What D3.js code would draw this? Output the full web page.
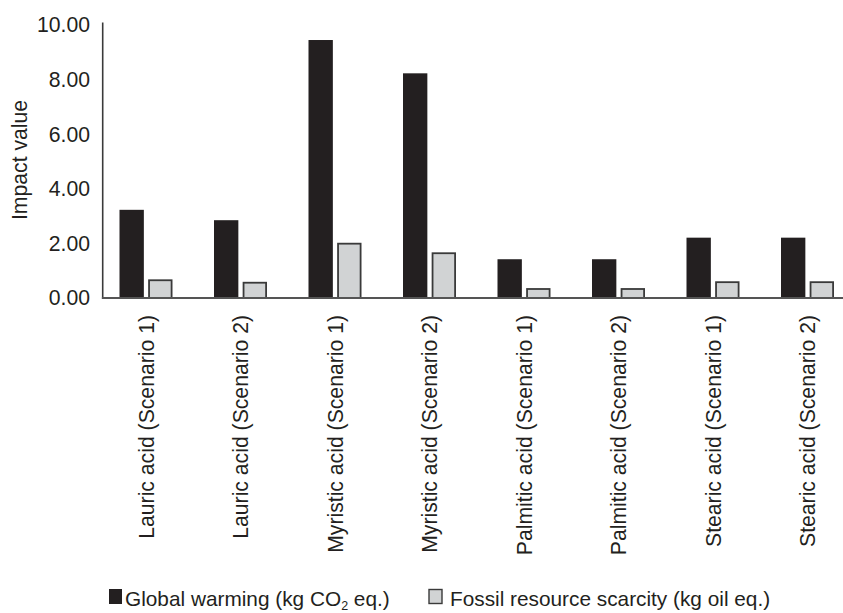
<!DOCTYPE html>
<html>
<head>
<meta charset="utf-8">
<script src="https://cdn.jsdelivr.net/npm/d3@7"></script>
<style>
  html, body { margin: 0; padding: 0; background: #fff; }
  svg { display: block; font-family: "Liberation Sans", Arial, sans-serif; }
</style>
</head>
<body>
<svg id="chart" width="843" height="613"></svg>
<script>
const categories = [
  "Lauric acid (Scenario 1)", "Lauric acid (Scenario 2)",
  "Myristic acid (Scenario 1)", "Myristic acid (Scenario 2)",
  "Palmitic acid (Scenario 1)", "Palmitic acid (Scenario 2)",
  "Stearic acid (Scenario 1)", "Stearic acid (Scenario 2)"
];
const seriesNames = ["Global warming", "Fossil resource scarcity"];
const globalWarming = [3.23, 2.85, 9.45, 8.23, 1.42, 1.42, 2.21, 2.21];
const fossilScarcity = [0.65, 0.56, 1.99, 1.64, 0.33, 0.33, 0.58, 0.58];
const yTicks = [0, 2, 4, 6, 8, 10];

const svg = d3.select("#chart");
const textColor = "#231f20";
const fs = 21.2;
const lfs = 20.8;

const y = d3.scaleLinear().domain([0, 10]).range([298, 25]);
const x0 = d3.scaleBand().domain(categories).range([99, 855]).paddingInner(0).paddingOuter(0);
const x1 = d3.scaleBand().domain(seriesNames).range([20.5, 73.5]).paddingInner(0.15);

const fills = { "Global warming": "#231f20", "Fossil resource scarcity": "#d1d3d4" };
const strokes = { "Global warming": "none", "Fossil resource scarcity": "#3a3a3a" };

const rows = categories.map((c, i) => ({ cat: c, vals: [
  { s: seriesNames[0], v: globalWarming[i] },
  { s: seriesNames[1], v: fossilScarcity[i] }
]}));

// bars
const g = svg.append("g");
rows.forEach(r => {
  r.vals.forEach(d => {
    const sw = d.s === seriesNames[1] ? 1.8 : 0;
    g.append("rect")
      .attr("x", x0(r.cat) + x1(d.s) + sw / 2)
      .attr("y", y(d.v))
      .attr("width", x1.bandwidth() - sw)
      .attr("height", y(0) - y(d.v))
      .attr("fill", fills[d.s])
      .attr("stroke", strokes[d.s])
      .attr("stroke-width", sw);
  });
});

// axes lines
const axisLeftX = 102.7;
svg.append("line")
  .attr("x1", axisLeftX).attr("x2", axisLeftX)
  .attr("y1", y(10) - 2.5).attr("y2", y(0) + 1)
  .attr("stroke", "#3a3a3a").attr("stroke-width", 1.6);
svg.append("line")
  .attr("x1", axisLeftX - 0.8).attr("x2", 843)
  .attr("y1", y(0)).attr("y2", y(0))
  .attr("stroke", "#555").attr("stroke-width", 2);

// y tick labels
svg.append("g").selectAll("text").data(yTicks).join("text")
  .attr("x", 90)
  .attr("y", d => y(d))
  .attr("dy", "0.35em")
  .attr("text-anchor", "end")
  .attr("font-size", fs)
  .attr("fill", textColor)
  .text(d => d3.format(".2f")(d));

// y axis title
svg.append("text")
  .attr("transform", `translate(27,${160}) rotate(-90)`)
  .attr("text-anchor", "middle")
  .attr("font-size", fs)
  .attr("fill", textColor)
  .text("Impact value");

// x labels
svg.append("g").selectAll("text").data(categories).join("text")
  .attr("transform", d => `translate(${x0(d) + x0.bandwidth() / 2},315) rotate(-90)`)
  .attr("dy", "0.35em")
  .attr("text-anchor", "end")
  .attr("font-size", fs)
  .attr("fill", textColor)
  .text(d => d);

// legend
const lg = svg.append("g");
lg.append("rect").attr("x", 109).attr("y", 589).attr("width", 13).attr("height", 15)
  .attr("fill", "#231f20");
const t1 = lg.append("text").attr("x", 125).attr("y", 606).attr("font-size", lfs).attr("fill", textColor);
t1.append("tspan").text("Global warming (kg CO");
t1.append("tspan").attr("font-size", lfs * 0.6).attr("dy", 4).text("2");
t1.append("tspan").attr("dy", -4).text(" eq.)");

lg.append("rect").attr("x", 429).attr("y", 589.5).attr("width", 13).attr("height", 14)
  .attr("fill", "#d1d3d4").attr("stroke", "#3a3a3a").attr("stroke-width", 1.4);
lg.append("text").attr("x", 450).attr("y", 606).attr("font-size", lfs).attr("fill", textColor)
  .text("Fossil resource scarcity (kg oil eq.)");
</script>
</body>
</html>
